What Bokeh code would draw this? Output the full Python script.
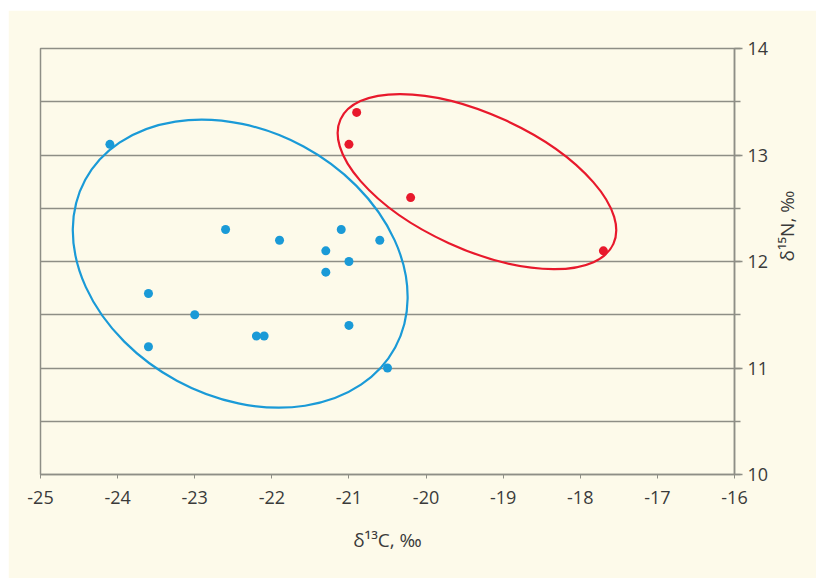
import math
from bokeh.plotting import figure
from bokeh.models import Range1d, SingleIntervalTicker
from bokeh.embed import file_html
from bokeh.resources import INLINE

# Data
blue_x = [-24.1, -23.6, -23.6, -23.0, -22.6, -22.2, -22.1, -21.9, -21.3, -21.3, -21.1, -21.0, -21.0, -20.6, -20.5]
blue_y = [13.1, 11.7, 11.2, 11.5, 12.3, 11.3, 11.3, 12.2, 12.1, 11.9, 12.3, 12.0, 11.4, 12.2, 11.0]
red_x = [-20.9, -21.0, -20.2, -17.7]
red_y = [13.4, 13.1, 12.6, 12.1]

# Group ellipses: centre, width, height (data units), angle (radians)
blue_ell = dict(x=-22.41, y=11.98, w=4.57, h=2.50, angle=-0.496)
red_ell = dict(x=-19.34, y=12.75, w=3.89, h=1.27, angle=-0.428)

x_ticks = list(range(-25, -15))
x_label = "δ¹³C, ‰"
y_label = "δ¹⁵N, ‰"

BG = "#FDFAEA"
GRID = "#8E8E86"
BLUE = "#1A9AD7"
RED = "#E8192C"
FONT = "Open Sans"
TXT = "#3a3a3a"

p = figure(width=808, height=568, output_backend="svg", toolbar_location=None,
           x_range=Range1d(-25, -16), y_range=Range1d(10, 14),
           y_axis_location="right",
           min_border_left=32, min_border_right=75, min_border_top=38, min_border_bottom=104)
p.margin = (10, 0, 0, 8)

p.background_fill_color = BG
p.border_fill_color = BG
p.outline_line_color = GRID
p.outline_line_width = 1.5

# grids
p.xgrid.visible = False
p.ygrid.ticker = SingleIntervalTicker(interval=0.5)
p.ygrid.grid_line_color = GRID
p.ygrid.grid_line_width = 1.5

# x axis
xa = p.xaxis[0]
xa.ticker = SingleIntervalTicker(interval=1, num_minor_ticks=0)
xa.major_label_overrides = {t: str(t) for t in x_ticks}
xa.axis_line_color = GRID
xa.axis_line_width = 1.5
xa.major_tick_line_color = GRID
xa.major_tick_in = 0
xa.major_tick_out = 4
xa.minor_tick_line_color = None
xa.major_label_text_font = FONT
xa.major_label_text_font_size = "18px"
xa.major_label_text_color = TXT
xa.major_label_standoff = 12
xa.axis_label = x_label
xa.axis_label_text_font = FONT
xa.axis_label_text_font_size = "19px"
xa.axis_label_text_font_style = "normal"
xa.axis_label_text_color = TXT
xa.axis_label_standoff = 20

# y axis (right)
ya = p.yaxis[0]
ya.ticker = SingleIntervalTicker(interval=1, num_minor_ticks=2)
ya.axis_line_color = GRID
ya.axis_line_width = 1.5
ya.major_tick_line_color = GRID
ya.major_tick_line_width = 1.5
ya.major_tick_in = 0
ya.major_tick_out = 8
ya.minor_tick_line_color = GRID
ya.minor_tick_line_width = 1.5
ya.minor_tick_in = 0
ya.minor_tick_out = 6
ya.major_label_text_font = FONT
ya.major_label_text_font_size = "18px"
ya.major_label_text_color = TXT
ya.major_label_standoff = 5
ya.axis_label = y_label
ya.axis_label_text_font = FONT
ya.axis_label_text_font_size = "19px"
ya.axis_label_text_font_style = "normal"
ya.axis_label_text_color = TXT
ya.axis_label_standoff = 16
if hasattr(ya, "axis_label_orientation"):
    ya.axis_label_orientation = math.pi / 2

# ellipses
p.ellipse(x=[blue_ell["x"]], y=[blue_ell["y"]], width=[blue_ell["w"]], height=[blue_ell["h"]],
          angle=[blue_ell["angle"]], fill_color=None, line_color=BLUE, line_width=2.2)
p.ellipse(x=[red_ell["x"]], y=[red_ell["y"]], width=[red_ell["w"]], height=[red_ell["h"]],
          angle=[red_ell["angle"]], fill_color=None, line_color=RED, line_width=2.2)

# points
p.scatter(blue_x, blue_y, size=9, color=BLUE, line_color=None)
p.scatter(red_x, red_y, size=9, color=RED, line_color=None)

open("out.html", "w").write(file_html(p, INLINE))
